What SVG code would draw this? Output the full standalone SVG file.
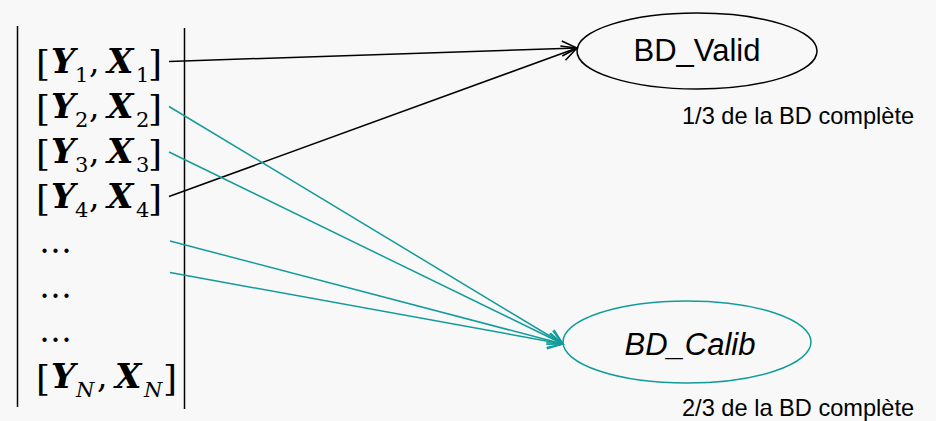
<svg xmlns="http://www.w3.org/2000/svg" width="936" height="421" viewBox="0 0 936 421">
<defs>
<style>
.bg{fill:#f8f8f8}
.bar{stroke:#000;stroke-width:1.5;fill:none}
.m{font-family:"DejaVu Serif","Liberation Serif",serif;fill:#000}
.br{font-size:36px}
.v{font-size:34px;font-weight:bold;font-style:italic}
.s{font-size:21px}
.si{font-size:21px;font-style:italic}
.c{font-size:33px}
.lbl{font-family:"Liberation Sans",Arial,sans-serif;fill:#000}
.blk{stroke:#000;stroke-width:1.5;fill:none}
.tl{stroke:#139b9b;stroke-width:1.5;fill:none}
</style>
<marker id="ab" viewBox="0 0 20 20" markerWidth="20" markerHeight="20" refX="17" refY="10" orient="auto" markerUnits="userSpaceOnUse">
<path d="M2,2.5 L17,10 L2,17.5" fill="none" stroke="#000" stroke-width="1.5"/>
</marker>
<marker id="at" viewBox="0 0 20 20" markerWidth="20" markerHeight="20" refX="17" refY="10" orient="auto" markerUnits="userSpaceOnUse">
<path d="M2,2.5 L17,10 L2,17.5" fill="none" stroke="#139b9b" stroke-width="1.5"/>
</marker>
</defs>
<rect class="bg" x="0" y="0" width="936" height="421"/>

<g id="list">
<line class="bar" x1="17.5" y1="26" x2="17.5" y2="407"/>
<line class="bar" x1="184.5" y1="28" x2="184.5" y2="409"/>
<g class="m">
<text class="br" x="36" y="76">[</text><text class="v" x="51" y="73">Y</text><text class="s" x="75" y="82">1</text><text class="c" x="89" y="73">,</text><text class="v" x="107" y="73">X</text><text class="s" x="136" y="82">1</text><text class="br" x="148" y="76">]</text>
<text class="br" x="36" y="121">[</text><text class="v" x="51" y="118">Y</text><text class="s" x="75" y="127">2</text><text class="c" x="89" y="118">,</text><text class="v" x="107" y="118">X</text><text class="s" x="136" y="127">2</text><text class="br" x="148" y="121">]</text>
<text class="br" x="36" y="166">[</text><text class="v" x="51" y="163">Y</text><text class="s" x="75" y="172">3</text><text class="c" x="89" y="163">,</text><text class="v" x="107" y="163">X</text><text class="s" x="136" y="172">3</text><text class="br" x="148" y="166">]</text>
<text class="br" x="36" y="211">[</text><text class="v" x="51" y="208">Y</text><text class="s" x="75" y="217">4</text><text class="c" x="89" y="208">,</text><text class="v" x="107" y="208">X</text><text class="s" x="136" y="217">4</text><text class="br" x="148" y="211">]</text>
<text class="c" x="39" y="253">…</text>
<text class="c" x="39" y="298">…</text>
<text class="c" x="39" y="342">…</text>
<text class="br" x="36" y="391">[</text><text class="v" x="51" y="388">Y</text><text class="si" x="76" y="397">N</text><text class="c" x="97" y="388">,</text><text class="v" x="115" y="388">X</text><text class="si" x="144" y="397">N</text><text class="br" x="163" y="391">]</text>
</g>
</g>

<g id="connectors">
<line class="blk" x1="169" y1="61.5" x2="577" y2="48" marker-end="url(#ab)"/>
<line class="blk" x1="169" y1="196.5" x2="577" y2="48" marker-end="url(#ab)"/>
<line class="tl" x1="169" y1="106.5" x2="563" y2="344" marker-end="url(#at)"/>
<line class="tl" x1="169" y1="152" x2="563" y2="344" marker-end="url(#at)"/>
<line class="tl" x1="170" y1="241" x2="563" y2="344" marker-end="url(#at)"/>
<line class="tl" x1="170" y1="272.5" x2="563" y2="344" marker-end="url(#at)"/>
</g>

<g id="bd-valid">
<ellipse cx="697" cy="51" rx="120" ry="38" fill="none" stroke="#000" stroke-width="1.5"/>
<text class="lbl" x="697" y="61" font-size="31" text-anchor="middle">BD_Valid</text>
<text class="lbl" x="682" y="124" font-size="23.6">1/3 de la BD complète</text>
</g>

<g id="bd-calib">
<ellipse cx="687" cy="342" rx="124" ry="41" fill="none" stroke="#139b9b" stroke-width="1.5"/>
<text class="lbl" x="690" y="355" font-size="31" font-style="italic" text-anchor="middle">BD_Calib</text>
<text class="lbl" x="682" y="416" font-size="23.6">2/3 de la BD complète</text>
</g>
</svg>
